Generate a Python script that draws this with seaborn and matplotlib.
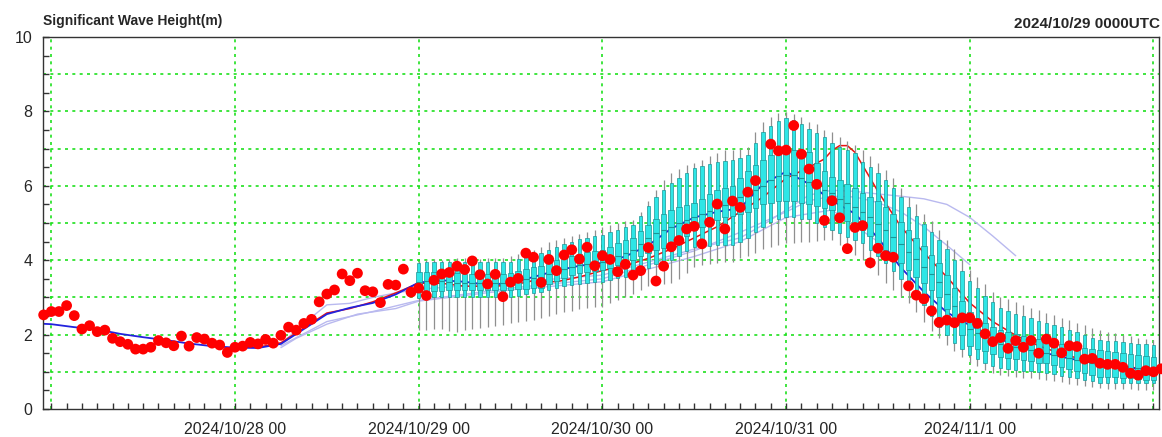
import numpy as np
import pandas as pd
import matplotlib
matplotlib.use("Agg")
import matplotlib.pyplot as plt
from matplotlib.ticker import MultipleLocator, FixedLocator
import seaborn as sns

# ---------------------------------------------------------------------------
# Data (hours counted from 2024/10/27 00 UTC)
# ---------------------------------------------------------------------------

# Hourly observed significant wave height (m); NaN where no report
obs_hours = list(range(-1, 146))
obs_hs = [
    2.53,                                                   # -1
    2.62, 2.62, 2.78, 2.51, 2.15, 2.24, 2.08, 2.12, 1.90, 1.81, 1.74, 1.61,   # 0-11
    1.61, 1.66, 1.84, 1.78, 1.70, 1.96, 1.69, 1.92, 1.88, 1.77, 1.72, 1.52,   # 12-23
    1.66, 1.69, 1.79, 1.75, 1.87, 1.77, 1.98, 2.20, 2.12, 2.30, 2.41, 2.88,   # 24-35
    3.09, 3.20, 3.63, 3.45, 3.65, 3.18, 3.15, 2.86, 3.35, 3.33, 3.76, 3.14,   # 36-47
    3.25, 3.05, 3.46, 3.63, 3.67, 3.84, 3.75, 3.98, 3.61, 3.36, 3.62, 3.02,   # 48-59
    3.41, 3.51, 4.19, 4.08, 3.40, 4.02, 3.72, 4.14, 4.28, 4.03, 4.35, 3.85,   # 60-71
    4.12, 4.02, 3.69, 3.89, 3.60, 3.72, 4.34, 3.44, 3.84, 4.36, 4.53, 4.84,   # 72-83
    4.91, 4.44, 5.02, 5.51, 4.84, 5.59, 5.42, 5.83, 6.14, np.nan, 7.12, 6.94, # 84-95
    6.96, 7.62, 6.85, 6.45, 6.04, 5.07, 5.60, 5.14, 4.31, 4.88, 4.93, 3.93,   # 96-107
    4.32, 4.12, 4.08, np.nan, 3.31, 3.06, 2.96, 2.64, 2.33, 2.39, 2.32, 2.45, # 108-119
    2.45, 2.30, 2.02, 1.81, 1.92, 1.63, 1.84, 1.66, 1.84, 1.50, 1.88, 1.77,   # 120-131
    1.51, 1.70, 1.68, 1.34, 1.36, 1.23, 1.20, 1.20, 1.12, 0.96, 0.91, 1.03,   # 132-143
    1.00, 1.08,                                             # 144-145
]

# Ensemble spread, hourly from 10/29 00 (h=48) to 11/2 00 (h=144)
box_hours = list(range(48, 145))
ens_max = [
    3.99, 4.00, 4.02, 4.00, 4.03, 4.05, 4.05, 4.06, 4.04, 4.05, 4.06, 4.05,
    4.10, 4.16, 4.22, 4.27, 4.36, 4.50, 4.55, 4.60, 4.65, 4.70, 4.75, 4.80,
    4.88, 4.95, 5.00, 5.05, 5.08, 5.30, 5.60, 5.90, 6.15, 6.34, 6.45, 6.55,
    6.60, 6.70, 6.80, 6.88, 6.95, 6.96, 7.00, 7.05, 7.45, 7.72, 7.85, 7.95,
    7.99, 7.93, 7.85, 7.72, 7.65, 7.50, 7.45, 7.32, 7.20, 7.10, 6.96, 6.80,
    6.60, 6.42, 6.20, 5.95, 5.71, 5.50, 5.25, 5.05, 4.81, 4.55, 4.30, 4.00,
    3.75, 3.55, 3.35, 3.15, 3.02, 2.95, 2.88, 2.80, 2.72, 2.65, 2.58, 2.52,
    2.45, 2.38, 2.30, 2.25, 2.18, 2.12, 2.08, 2.03, 2.00, 1.96, 1.92, 1.88,
    1.85,
]
ens_p90 = [
    3.93, 3.94, 3.95, 3.95, 3.96, 3.96, 3.96, 3.95, 3.95, 3.94, 3.95, 3.95,
    3.96, 4.02, 4.08, 4.14, 4.19, 4.28, 4.36, 4.44, 4.50, 4.56, 4.60, 4.64,
    4.68, 4.75, 4.82, 4.90, 4.95, 5.20, 5.45, 5.70, 5.90, 6.07, 6.20, 6.35,
    6.47, 6.52, 6.58, 6.63, 6.68, 6.70, 6.76, 6.83, 7.15, 7.45, 7.62, 7.75,
    7.82, 7.78, 7.65, 7.53, 7.42, 7.30, 7.15, 7.05, 6.95, 6.88, 6.65, 6.50,
    6.35, 6.16, 5.95, 5.70, 5.44, 5.20, 4.98, 4.76, 4.54, 4.30, 4.00, 3.70,
    3.45, 3.25, 3.05, 2.88, 2.71, 2.64, 2.56, 2.50, 2.44, 2.37, 2.31, 2.26,
    2.20, 2.12, 2.06, 1.98, 1.92, 1.85, 1.84, 1.82, 1.80, 1.78, 1.76, 1.74,
    1.72,
]
ens_p75 = [
    3.69, 3.68, 3.67, 3.67, 3.66, 3.65, 3.64, 3.64, 3.63, 3.63, 3.64, 3.64,
    3.65, 3.70, 3.76, 3.82, 3.85, 3.92, 4.00, 4.06, 4.12, 4.17, 4.21, 4.25,
    4.27, 4.35, 4.45, 4.53, 4.60, 4.78, 4.95, 5.10, 5.24, 5.35, 5.42, 5.48,
    5.53, 5.65, 5.78, 5.88, 5.95, 6.00, 6.20, 6.40, 6.55, 6.70, 6.82, 6.90,
    6.96, 6.95, 6.92, 6.90, 6.60, 6.40, 6.24, 6.15, 6.05, 5.95, 5.80, 5.70,
    5.58, 5.44, 5.25, 5.03, 4.81, 4.60, 4.38, 4.15, 3.92, 3.60, 3.25, 2.90,
    2.60, 2.45, 2.32, 2.20, 2.12, 2.07, 2.02, 1.97, 1.93, 1.89, 1.85, 1.80,
    1.76, 1.72, 1.68, 1.65, 1.62, 1.59, 1.56, 1.53, 1.50, 1.48, 1.45, 1.43,
    1.41,
]
ens_median = [
    3.42, 3.43, 3.43, 3.44, 3.42, 3.40, 3.40, 3.39, 3.38, 3.37, 3.38, 3.40,
    3.42, 3.46, 3.50, 3.53, 3.55, 3.62, 3.70, 3.77, 3.83, 3.87, 3.90, 3.93,
    3.96, 4.04, 4.12, 4.20, 4.27, 4.43, 4.60, 4.72, 4.82, 4.90, 5.00, 5.08,
    5.17, 5.25, 5.33, 5.40, 5.48, 5.60, 5.70, 5.80, 5.90, 6.00, 6.15, 6.25,
    6.30, 6.28, 6.20, 6.10, 6.00, 5.90, 5.80, 5.65, 5.55, 5.42, 5.30, 5.15,
    4.98, 4.81, 4.62, 4.43, 4.23, 4.02, 3.82, 3.62, 3.42, 3.10, 2.78, 2.45,
    2.15, 2.05, 1.95, 1.85, 1.75, 1.70, 1.66, 1.62, 1.58, 1.54, 1.50, 1.46,
    1.42, 1.37, 1.33, 1.28, 1.24, 1.20, 1.17, 1.15, 1.13, 1.11, 1.09, 1.07,
    1.05,
]
ens_p25 = [
    3.15, 3.16, 3.17, 3.18, 3.19, 3.20, 3.20, 3.20, 3.20, 3.19, 3.20, 3.20,
    3.20, 3.22, 3.23, 3.24, 3.25, 3.35, 3.45, 3.53, 3.60, 3.65, 3.69, 3.72,
    3.74, 3.80, 3.87, 3.94, 4.00, 4.10, 4.20, 4.27, 4.33, 4.36, 4.50, 4.65,
    4.81, 4.90, 5.00, 5.08, 5.15, 5.20, 5.25, 5.30, 5.40, 5.50, 5.55, 5.58,
    5.60, 5.58, 5.55, 5.50, 5.45, 5.40, 5.35, 5.20, 5.05, 4.93, 4.81, 4.64,
    4.45, 4.27, 4.10, 3.92, 3.74, 3.56, 3.38, 3.20, 3.02, 2.70, 2.35, 2.00,
    1.70, 1.62, 1.55, 1.48, 1.41, 1.38, 1.35, 1.32, 1.28, 1.25, 1.23, 1.18,
    1.13, 1.08, 1.03, 0.98, 0.92, 0.87, 0.86, 0.85, 0.83, 0.82, 0.80, 0.79,
    0.78,
]
ens_p10 = [
    2.98, 2.99, 3.00, 3.00, 3.01, 3.02, 3.02, 3.01, 3.00, 3.00, 3.00, 3.00,
    3.00, 3.05, 3.10, 3.13, 3.15, 3.20, 3.25, 3.30, 3.34, 3.37, 3.39, 3.41,
    3.42, 3.47, 3.52, 3.56, 3.60, 3.70, 3.80, 3.90, 3.96, 4.00, 4.12, 4.25,
    4.36, 4.38, 4.39, 4.40, 4.40, 4.40, 4.50, 4.60, 4.75, 4.90, 5.02, 5.12,
    5.17, 5.15, 5.12, 5.10, 5.00, 4.90, 4.81, 4.72, 4.63, 4.55, 4.45, 4.28,
    4.10, 3.92, 3.72, 3.50, 3.29, 3.05, 2.80, 2.50, 2.20, 1.98, 1.78, 1.60,
    1.45, 1.35, 1.25, 1.16, 1.09, 1.07, 1.05, 1.03, 1.01, 0.99, 0.97, 0.94,
    0.90, 0.86, 0.82, 0.78, 0.74, 0.70, 0.70, 0.70, 0.70, 0.70, 0.70, 0.70,
    0.70,
]
ens_min = [
    2.12, 2.12, 2.14, 2.15, 2.10, 2.08, 2.12, 2.15, 2.18, 2.20, 2.24, 2.27,
    2.30, 2.33, 2.36, 2.39, 2.45, 2.50, 2.55, 2.60, 2.64, 2.68, 2.71, 2.73,
    2.75, 2.84, 2.93, 3.02, 3.10, 3.20, 3.30, 3.33, 3.36, 3.38, 3.50, 3.65,
    3.83, 3.87, 3.90, 3.92, 3.94, 3.95, 4.05, 4.10, 4.20, 4.30, 4.36, 4.42,
    4.45, 4.47, 4.49, 4.50, 4.52, 4.53, 4.54, 4.42, 4.30, 4.15, 4.00, 3.80,
    3.60, 3.38, 3.20, 3.02, 2.85, 2.60, 2.35, 2.10, 1.90, 1.72, 1.56, 1.40,
    1.25, 1.15, 1.06, 0.98, 0.91, 0.89, 0.86, 0.84, 0.82, 0.80, 0.78, 0.75,
    0.72, 0.68, 0.65, 0.62, 0.59, 0.56, 0.55, 0.54, 0.53, 0.53, 0.52, 0.52,
    0.51,
]

# Ensemble mean (blue)
mean_hours = [-1, 0, 3, 6, 9, 12, 15, 18, 21, 24, 27, 30, 33, 36, 39, 42, 45,
              48, 51, 54, 57, 60, 63, 66, 69, 72, 75, 78, 81, 84, 87, 90, 93,
              96, 99, 102, 105, 108, 111, 114, 117, 120, 123, 126, 129, 132,
              135, 138, 141, 144]
mean_hs = [2.29, 2.28, 2.20, 2.14, 2.02, 1.93, 1.85, 1.76, 1.69, 1.65, 1.64,
           1.75, 2.15, 2.55, 2.72, 2.85, 3.08, 3.40, 3.46, 3.42, 3.34, 3.38,
           3.55, 3.72, 3.85, 3.93, 4.10, 4.40, 4.85, 5.15, 5.30, 5.40, 6.05,
           6.38, 6.05, 5.60, 5.25, 4.60, 3.80, 3.15, 2.60, 2.25, 1.95, 1.72,
           1.55, 1.40, 1.28, 1.17, 1.10, 1.05]

# Control run (red)
ctrl_hours = [24, 27, 30, 33, 36, 39, 42, 45, 48, 51, 54, 57, 60, 63, 66, 69,
              72, 75, 78, 81, 84, 87, 90, 93, 96, 99, 101, 102, 103, 104, 105,
              106, 108, 111, 114, 117, 120, 123, 126, 129, 132, 135, 138, 141,
              144]
ctrl_hs = [1.66, 1.66, 1.78, 2.18, 2.58, 2.70, 2.88, 3.12, 3.38, 3.38, 3.30,
           3.30, 3.32, 3.45, 3.42, 3.55, 3.72, 3.85, 4.05, 4.30, 4.60, 4.90,
           5.30, 5.70, 6.20, 6.50, 6.72, 6.95, 7.08, 7.08, 6.90, 6.55, 5.85,
           4.90, 4.20, 3.55, 2.85, 2.35, 1.98, 1.70, 1.48, 1.32, 1.20, 1.12,
           1.06]

# Earlier forecasts (light lavender)
prevA_hours = [30, 33, 36, 39, 42, 45, 48, 60, 72, 84, 90, 93, 96, 99, 102,
               105, 108, 111, 114, 117, 120, 123, 126]
prevA_hs = [1.75, 2.30, 2.80, 2.84, 3.00, 3.12, 3.22, 3.40, 3.60, 4.30, 4.60,
            4.95, 5.35, 5.75, 5.88, 5.85, 5.78, 5.72, 5.65, 5.50, 5.15, 4.65,
            4.12]
prevB_hours = [30, 36, 42, 48, 60, 72, 84, 90, 96, 99, 102, 105, 108, 111,
               114, 117, 120]
prevB_hs = [1.70, 2.35, 2.62, 2.92, 3.25, 3.50, 4.25, 4.75, 5.30, 5.60, 5.72,
            5.70, 5.55, 5.30, 4.90, 4.40, 3.88]
prevC_hours = [30, 32, 36, 40, 45, 48, 60, 72, 84, 90, 96, 102, 108]
prevC_hs = [1.65, 1.90, 2.28, 2.55, 2.70, 2.90, 3.20, 3.42, 4.10, 4.50, 5.15,
            5.35, 4.50]

# Axis annotation
xtick_hours = [24, 48, 72, 96, 120]
xtick_labels = ["2024/10/28 00", "2024/10/29 00", "2024/10/30 00",
                "2024/10/31 00", "2024/11/1 00"]
day_lines = [0, 24, 48, 72, 96, 120, 144]
title_left = "Significant Wave Height(m)"
title_right = "2024/10/29 0000UTC"

# ---------------------------------------------------------------------------
# Figure
# ---------------------------------------------------------------------------
sns.set_style("white")
plt.rcParams["font.family"] = ["Liberation Sans", "DejaVu Sans"]

W, H = 1162, 437
fig = plt.figure(figsize=(W / 100, H / 100), dpi=100)
ax = fig.add_axes([43.3 / W, 1 - 409 / H, (1159 - 43.3) / W, (409 - 37) / H])

GREEN = "#1fe01f"
grid_dash = (0, (1.8, 2.6))
for h in day_lines:
    ax.axvline(h, color=GREEN, lw=1.2, ls=grid_dash, zorder=0.5)
for yv in range(1, 10):
    ax.axhline(yv, color=GREEN, lw=1.2, ls=grid_dash, zorder=0.5)

# Forecast lines (under the ensemble boxes)
line_sets = [
    (prevA_hours, prevA_hs, "#b9b9ef", 1.0),
    (prevB_hours, prevB_hs, "#b9b9ef", 1.0),
    (prevC_hours, prevC_hs, "#b9b9ef", 1.0),
    (ctrl_hours, ctrl_hs, "#ee1111", 1.1),
    (mean_hours, mean_hs, "#2222dd", 1.3),
]
for hrs, vals, col, lw in line_sets:
    df = pd.DataFrame({"hour": hrs, "hs": vals})
    sns.lineplot(data=df, x="hour", y="hs", ax=ax, color=col, lw=lw,
                 estimator=None, sort=True, zorder=1.5, legend=False)

# Ensemble boxes
bh = np.array(box_hours, dtype=float)
CYAN = "#2ee6e6"
EDGE = "#1b9696"
ax.vlines(bh, ens_min, ens_max, color="#8f8f8f", lw=0.9, zorder=2)
ax.bar(bh, np.array(ens_p90) - np.array(ens_p10), bottom=ens_p10, width=0.44,
       color=CYAN, edgecolor=EDGE, linewidth=0.5, zorder=3)
ax.bar(bh, np.array(ens_p75) - np.array(ens_p25), bottom=ens_p25, width=0.74,
       color=CYAN, edgecolor=EDGE, linewidth=0.5, zorder=3.1)
ax.hlines(ens_median, bh - 0.37, bh + 0.37, color=EDGE, lw=0.8, zorder=3.2)

# Observations
obs_df = pd.DataFrame({"hour": obs_hours, "hs": obs_hs}).dropna()
sns.scatterplot(data=obs_df, x="hour", y="hs", ax=ax, color="#ff0000", s=60,
                edgecolor="none", linewidth=0, zorder=5, clip_on=False,
                legend=False)

# Axes styling
ax.set_xlim(-1.045, 144.72)
ax.set_ylim(0, 10)
ax.set_xlabel("")
ax.set_ylabel("")
ax.xaxis.set_major_locator(FixedLocator(xtick_hours))
ax.set_xticklabels(xtick_labels)
ax.xaxis.set_minor_locator(MultipleLocator(2))
ax.yaxis.set_major_locator(MultipleLocator(2))
ax.yaxis.set_minor_locator(MultipleLocator(0.5))
ax.tick_params(axis="both", which="both", direction="in", length=4.5,
               width=1.0, color="#333333", bottom=True, left=True,
               top=False, right=False)
ax.tick_params(axis="x", which="major", labelsize=11.5, pad=9)
ax.tick_params(axis="y", which="major", labelsize=11.5, pad=8)
for sp in ax.spines.values():
    sp.set_visible(True)
    sp.set_color("#333333")
    sp.set_linewidth(1.0)
ax.set_facecolor("white")

fig.text(43.3 / W, 1 - 25 / H, title_left, fontsize=10, fontweight="bold",
         ha="left", va="baseline")
fig.text(1160 / W, 1 - 28 / H, title_right, fontsize=11, fontweight="bold",
         ha="right", va="baseline")

fig.savefig("out.png", dpi=100, facecolor="white")
